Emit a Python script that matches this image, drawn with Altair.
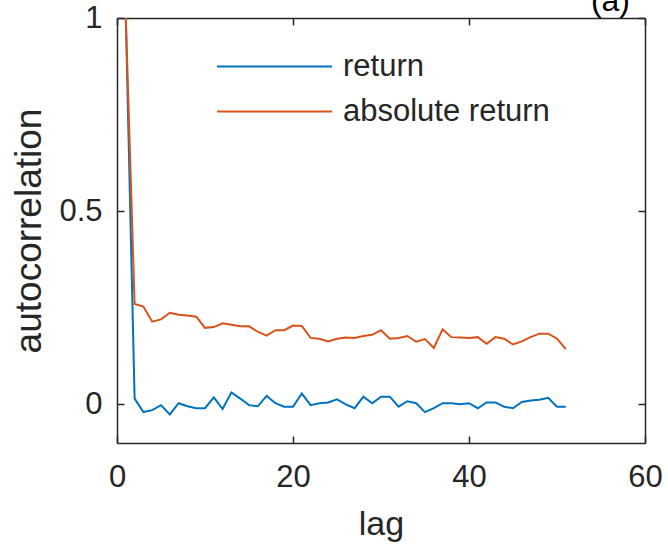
import altair as alt
import pandas as pd

# ---- data ----
lags = list(range(1, 52))
ret = [1.0, 0.015, -0.02, -0.015, -0.002, -0.026, 0.003, -0.005, -0.01, -0.01,
       0.018, -0.012, 0.031, 0.015, -0.002, -0.005, 0.022, 0.003, -0.006, -0.006,
       0.028, -0.002, 0.003, 0.005, 0.013, 0.0, -0.01, 0.02, 0.003, 0.02,
       0.02, -0.006, 0.008, 0.003, -0.02, -0.01, 0.003, 0.003, 0.0, 0.003,
       -0.01, 0.005, 0.005, -0.006, -0.01, 0.006, 0.01, 0.012, 0.017, -0.006,
       -0.006]
absret = [1.0, 0.26, 0.253, 0.214, 0.22, 0.237, 0.232, 0.23, 0.227, 0.198,
          0.2, 0.21, 0.206, 0.202, 0.202, 0.188, 0.178, 0.192, 0.192, 0.204,
          0.203, 0.172, 0.17, 0.163, 0.17, 0.173, 0.172, 0.177, 0.18, 0.192,
          0.17, 0.172, 0.177, 0.162, 0.169, 0.146, 0.194, 0.174, 0.173, 0.172,
          0.174, 0.157, 0.174, 0.17, 0.155, 0.163, 0.174, 0.183, 0.183, 0.17,
          0.143]
series_names = ["return", "absolute return"]
colors = ["#0072BD", "#D95319"]
x_ticks = [0, 20, 40, 60]
y_ticks = [0, 0.5, 1]

df = pd.DataFrame({
    "lag": lags + lags,
    "value": ret + absret,
    "series": [series_names[0]] * len(lags) + [series_names[1]] * len(lags),
})

W, H = 528, 425
AX = "#262626"
FONT = "Liberation Sans"

xscale = alt.Scale(domain=[0, 60], nice=False, zero=False)
yscale = alt.Scale(domain=[-0.1, 1], nice=False, zero=False)

base = alt.Chart(df)

main = base.mark_line(strokeWidth=2, clip=True).encode(
    x=alt.X("lag:Q", scale=xscale,
            axis=alt.Axis(orient="bottom", values=x_ticks, title="lag",
                          ticks=False, labelPadding=19, titlePadding=15,
                          labelFlush=False, domain=True)),
    y=alt.Y("value:Q", scale=yscale,
            axis=alt.Axis(orient="left", values=y_ticks, format="~g",
                          title="autocorrelation", ticks=False,
                          labelFlush=False, titleFontSize=37,
                          labelPadding=15, titlePadding=10, domain=True)),
    color=alt.Color("series:N",
                    scale=alt.Scale(domain=series_names, range=colors),
                    legend=alt.Legend(orient="none", legendX=142, legendY=33,
                                      title=None, symbolType="M-4,0H4",
                                      symbolSize=827, symbolStrokeWidth=2,
                                      labelFontSize=31, labelFont=FONT,
                                      labelColor=AX, labelOffset=53,
                                      labelLimit=500,
                                      rowPadding=13, padding=0)),
)

# inner ticks at bottom (pointing up) and at left (pointing right)
inner1 = base.mark_line(strokeOpacity=0).encode(
    x=alt.X("lag:Q", scale=xscale,
            axis=alt.Axis(orient="top", offset=-H, values=x_ticks, labels=False,
                          domain=False, ticks=True, tickSize=7, title=None)),
    y=alt.Y("value:Q", scale=yscale,
            axis=alt.Axis(orient="right", offset=-W, values=y_ticks, labels=False,
                          domain=False, ticks=True, tickSize=7, title=None)),
    detail="series:N",
)

# frame top/right with inward ticks
inner2 = base.mark_line(strokeOpacity=0).encode(
    x=alt.X("lag:Q", scale=xscale,
            axis=alt.Axis(orient="bottom", offset=-H, values=x_ticks, labels=False,
                          domain=True, ticks=True, tickSize=7, title=None)),
    y=alt.Y("value:Q", scale=yscale,
            axis=alt.Axis(orient="left", offset=-W, values=y_ticks, labels=False,
                          domain=True, ticks=True, tickSize=7, title=None)),
    detail="series:N",
)

chart = alt.layer(main, inner1, inner2).resolve_axis(
    x="independent", y="independent"
).properties(
    width=W, height=H,
    autosize=alt.AutoSizeParams(type="none"),
    padding={"left": 117, "top": 18, "right": 23, "bottom": 114},
    background="white",
    title=alt.Title("(a)", anchor="end", fontSize=32, fontWeight="normal",
                    font=FONT, color="#000000", baseline="alphabetic",
                    offset=7, dy=48, dx=-15, frame="group"),
).configure_view(stroke=None).configure_axis(
    domainColor=AX, domainWidth=1.5, tickColor=AX, tickWidth=1.5,
    labelFont=FONT, labelFontSize=31, labelColor=AX,
    titleFont=FONT, titleFontSize=34, titleColor=AX, titleFontWeight="normal",
    grid=False,
)

chart.save("out.html", embed_options={"renderer": "svg", "actions": False})
